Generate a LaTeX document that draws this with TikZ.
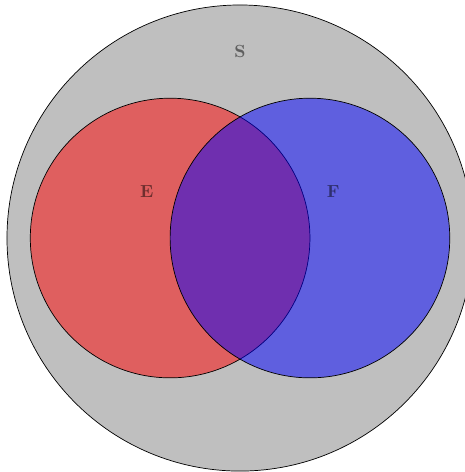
\documentclass[tikz,border=0pt]{standalone}
\begin{document}
\begin{tikzpicture}[x=1cm,y=1cm,scale=0.9321,
  lbl/.style={font=\bfseries, text opacity=0.5, text=black}]
\useasboundingbox (-5.15,-5.02) rectangle (4.81,5.107);
\fill[fill=lightgray,draw=black] (0,0) circle (5);
\path[fill=red,fill opacity=0.5,draw=black] (-1.5,0) circle (3);
\path[fill=blue,fill opacity=0.5,draw=black] (1.5,0) circle (3);
\node[lbl] (S) at (0,4) {S};
\node[lbl] (E) at (-2,1) {E};
\node[lbl] (F) at (2,1) {F};
\end{tikzpicture}
\end{document}
